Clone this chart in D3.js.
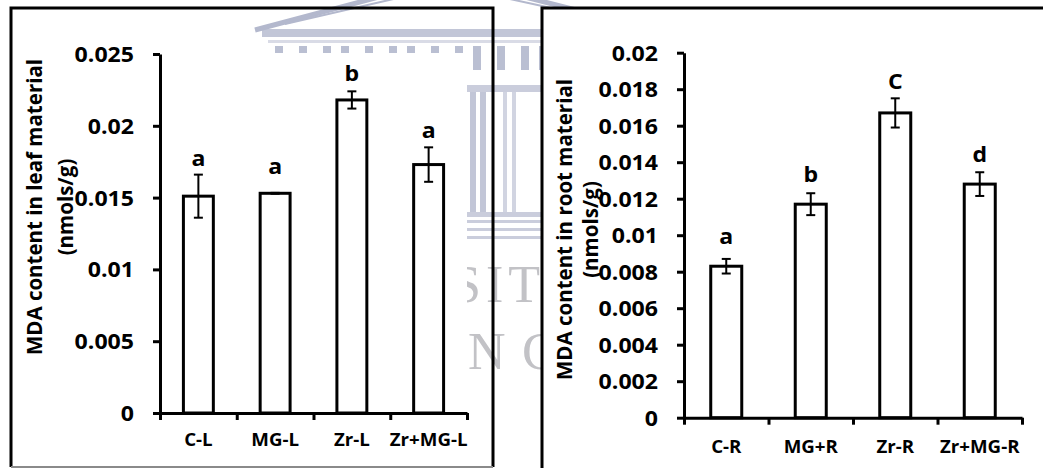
<!DOCTYPE html>
<html>
<head>
<meta charset="utf-8">
<script src="https://cdn.jsdelivr.net/npm/d3@7"></script>
<style>
  body { margin: 0; background: #fff; }
  svg text { font-family: 'Open Sans', 'Liberation Sans', sans-serif; font-weight: 700; fill: #000; }
  svg text.wm { font-family: 'Liberation Serif', 'DejaVu Serif', serif; font-weight: 400; fill: #c2c2c6; }
</style>
</head>
<body>
<script>
// leaf panel
const leafCats = ['C-L', 'MG-L', 'Zr-L', 'Zr+MG-L'];
const leafMeans = [0.0151, 0.0153, 0.0218, 0.0173];
const leafErrs = [0.0015, 0.00003, 0.0006, 0.0012];
const leafLetters = ['a', 'a', 'b', 'a'];
const leafTicks = [0, 0.005, 0.01, 0.015, 0.02, 0.025];

// root panel
const rootCats = ['C-R', 'MG+R', 'Zr-R', 'Zr+MG-R'];
const rootMeans = [0.0083, 0.0117, 0.0167, 0.0128];
const rootErrs = [0.0004, 0.0006, 0.0008, 0.00065];
const rootLetters = ['a', 'b', 'C', 'd'];
const rootTicks = [0, 0.002, 0.004, 0.006, 0.008, 0.01, 0.012, 0.014, 0.016, 0.018, 0.02];

var width = 1043,
    height = 468;

var svg = d3.select('body').append('svg')
    .attr('width', width)
    .attr('height', height);

// faint watermark of the page behind the charts
var wm = svg.append('g').attr('fill', '#b3b8cd').attr('stroke', '#b3b8cd');
wm.append('path')
    .attr('d', 'M255,30 L450,-22 L655,30')
    .attr('fill', 'none').attr('stroke-width', 5);
wm.append('path')
    .attr('d', 'M285,24 L450,-14 L625,24')
    .attr('fill', 'none').attr('stroke-width', 2);
wm.append('rect').attr('x', 262).attr('y', 29).attr('width', 400).attr('height', 8).attr('stroke', 'none').attr('opacity', 0.8);
wm.append('rect').attr('x', 268).attr('y', 40).attr('width', 390).attr('height', 3).attr('stroke', 'none').attr('opacity', 0.5);
for (let k = 0; k < 18; k++) {
    wm.append('rect')
        .attr('x', 275 + k * 22 + (k % 3) * 2)
        .attr('y', 46).attr('width', 8).attr('height', 24)
        .attr('stroke', 'none').attr('opacity', 0.9);
}
wm.append('rect').attr('x', 466).attr('y', 85).attr('width', 76).attr('height', 7).attr('stroke', 'none').attr('opacity', 0.7);
wm.append('rect').attr('x', 470).attr('y', 92).attr('width', 6).attr('height', 120).attr('stroke', 'none').attr('opacity', 0.8);
wm.append('rect').attr('x', 480).attr('y', 92).attr('width', 6).attr('height', 120).attr('stroke', 'none').attr('opacity', 0.8);
wm.append('rect').attr('x', 503).attr('y', 92).attr('width', 4).attr('height', 120).attr('stroke', 'none').attr('opacity', 0.6);
wm.append('rect').attr('x', 512).attr('y', 92).attr('width', 4).attr('height', 120).attr('stroke', 'none').attr('opacity', 0.6);
[212, 220, 228, 236].forEach(function (yy, k) {
    wm.append('rect').attr('x', 462).attr('y', yy).attr('width', 80).attr('height', k == 0 ? 5 : 3)
        .attr('stroke', 'none').attr('opacity', 0.7);
});
svg.append('text').attr('class', 'wm').attr('x', 452).attr('y', 302)
    .attr('font-size', 52).attr('letter-spacing', 5).text('SITY');
svg.append('text').attr('class', 'wm').attr('x', 468).attr('y', 369)
    .attr('font-size', 52).text('N');
svg.append('text').attr('class', 'wm').attr('x', 522).attr('y', 369)
    .attr('font-size', 52).text('C');

// right panel background is plain white
svg.append('rect').attr('x', 542).attr('y', 8).attr('width', width - 542).attr('height', height - 8).attr('fill', '#fff');
// plot area of the left chart is white as well
svg.append('rect').attr('x', 150).attr('y', 53).attr('width', 317).attr('height', height - 55).attr('fill', '#fff');

// frames
svg.append('path')
    .attr('d', 'M11,467 V8 H493 V467')
    .attr('fill', 'none').attr('stroke', '#000').attr('stroke-width', 3);
svg.append('line')
    .attr('x1', 11).attr('x2', 493).attr('y1', 467).attr('y2', 467)
    .attr('stroke', '#8a8a8a').attr('stroke-width', 2);
svg.append('path')
    .attr('d', 'M542,468 V8 H1045')
    .attr('fill', 'none').attr('stroke', '#000').attr('stroke-width', 3);

function fmt(d) {
    return String(+d.toFixed(4));
}

function drawPanel(p, cats, means, errs, letters, ticks) {
    var g = svg.append('g');

    var y = d3.scaleLinear()
        .domain([0, ticks[ticks.length - 1]])
        .range([p.bottom, p.top]);

    var x = d3.scaleBand()
        .domain(cats)
        .range([p.left, p.right])
        .paddingInner(p.pad)
        .paddingOuter(p.pad / 2);

    // tick positions on the category axis sit between the groups
    var xb = d3.scaleLinear()
        .domain([0, cats.length])
        .range([p.left, p.right]);

    // bars
    g.selectAll('.bar')
        .data(means)
        .enter()
        .append('rect')
        .attr('class', 'bar')
        .attr('x', function (d, i) { return x(cats[i]); })
        .attr('y', function (d) { return y(d); })
        .attr('width', x.bandwidth())
        .attr('height', function (d) { return y(0) - y(d); })
        .attr('fill', '#fff')
        .attr('stroke', '#000')
        .attr('stroke-width', 3);

    // error bars
    var eb = g.selectAll('.err')
        .data(means)
        .enter()
        .append('g')
        .attr('class', 'err')
        .attr('stroke', '#000')
        .attr('stroke-width', 2)
        .attr('transform', function (d, i) {
            return 'translate(' + (x(cats[i]) + x.bandwidth() / 2) + ',0)';
        });
    eb.append('line')
        .attr('y1', function (d, i) { return y(d - errs[i]); })
        .attr('y2', function (d, i) { return y(d + errs[i]); });
    eb.append('line')
        .attr('x1', -4.5).attr('x2', 4.5)
        .attr('y1', function (d, i) { return y(d + errs[i]); })
        .attr('y2', function (d, i) { return y(d + errs[i]); });
    eb.append('line')
        .attr('x1', -4.5).attr('x2', 4.5)
        .attr('y1', function (d, i) { return y(d - errs[i]); })
        .attr('y2', function (d, i) { return y(d - errs[i]); });

    // significance letters
    g.selectAll('.sig')
        .data(means)
        .enter()
        .append('text')
        .attr('class', 'sig')
        .attr('text-anchor', 'middle')
        .attr('font-size', 22)
        .attr('transform', function (d, i) {
            var cx = x(cats[i]) + x.bandwidth() / 2;
            var cy = y(d + Math.max(errs[i], 0.0007)) - 9;
            return 'translate(' + cx + ',' + cy + ') scale(1.05,1)';
        })
        .text(function (d, i) { return letters[i]; });

    // y axis
    var ya = g.append('g')
        .attr('transform', 'translate(' + p.left + ',0)')
        .call(d3.axisLeft(y).tickValues(ticks).tickFormat(fmt).tickSize(7).tickSizeOuter(0));
    ya.select('.domain').attr('stroke-width', 3);
    ya.selectAll('.tick line').attr('stroke-width', 3);
    ya.selectAll('.tick text')
        .attr('x', 0)
        .attr('dy', '0.36em')
        .attr('font-size', 21)
        .attr('font-family', null)
        .attr('transform', 'translate(-26,0) scale(1.1,1)');

    // x axis
    var xa = g.append('g')
        .attr('transform', 'translate(0,' + y(0) + ')')
        .call(d3.axisBottom(xb).tickValues(d3.range(cats.length + 1)).tickFormat('').tickSize(7).tickSizeOuter(0));
    xa.select('.domain').attr('stroke-width', 3);
    xa.selectAll('.tick line').attr('stroke-width', 3);

    g.selectAll('.cat')
        .data(cats)
        .enter()
        .append('text')
        .attr('class', 'cat')
        .attr('text-anchor', 'middle')
        .attr('font-size', 17)
        .attr('transform', function (d) {
            return 'translate(' + (x(d) + x.bandwidth() / 2) + ',' + p.labelY + ') scale(1.1,1)';
        })
        .text(function (d) { return d; });

    // axis title, two lines
    g.append('text')
        .attr('text-anchor', 'middle')
        .attr('font-size', 20.5)
        .attr('transform', 'translate(' + p.title1X + ',' + p.titleY + ') rotate(-90)')
        .text(p.title1);
    g.append('text')
        .attr('text-anchor', 'middle')
        .attr('font-size', 20.5)
        .attr('transform', 'translate(' + p.title2X + ',' + p.titleY + ') rotate(-90)')
        .text('(nmols/g)');
}

drawPanel({
    left: 160, right: 467, top: 54, bottom: 413, pad: 0.61,
    labelY: 446, title1X: 42, title2X: 73, titleY: 207,
    title1: 'MDA content in leaf material'
}, leafCats, leafMeans, leafErrs, leafLetters, leafTicks);

drawPanel({
    left: 684, right: 1022, top: 52.7, bottom: 417.7, pad: 0.633,
    labelY: 452.5, title1X: 572, title2X: 598, titleY: 229.5,
    title1: 'MDA content in root material'
}, rootCats, rootMeans, rootErrs, rootLetters, rootTicks);
</script>
</body>
</html>
